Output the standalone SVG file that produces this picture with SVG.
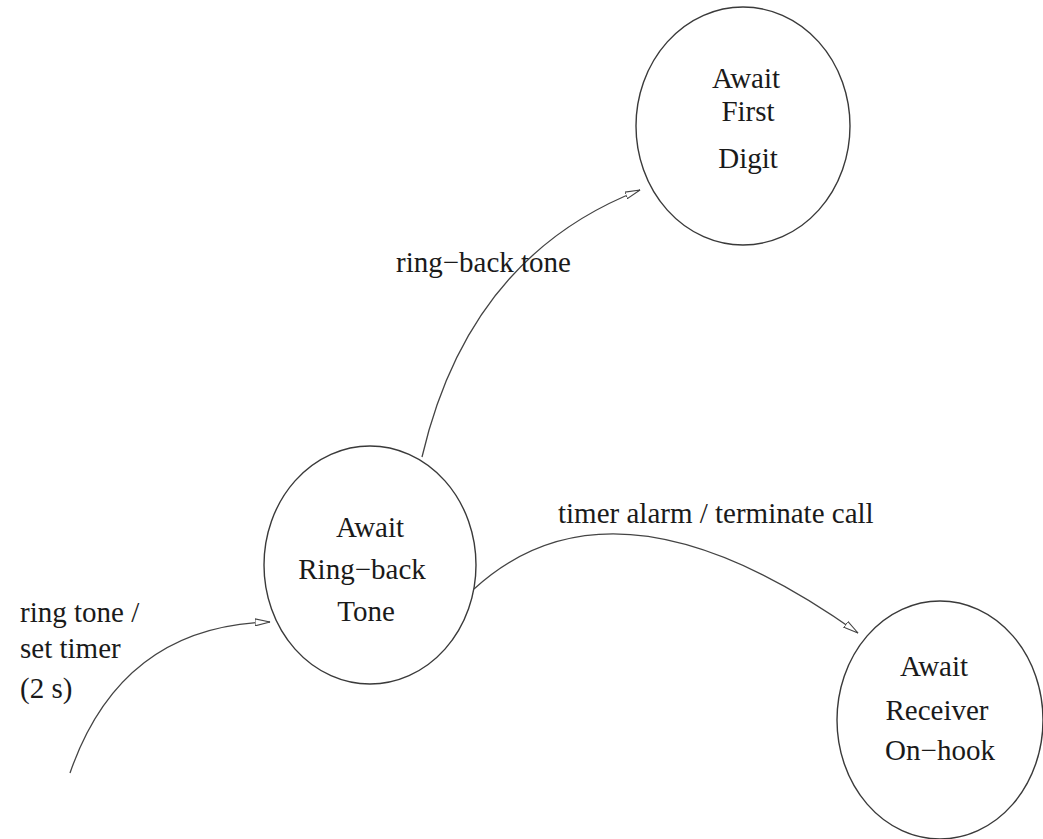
<svg xmlns="http://www.w3.org/2000/svg" width="1043" height="839" viewBox="0 0 1043 839">
  <style>
    .state { fill: #ffffff; stroke: #3a3a3a; stroke-width: 1.4; }
    .name { font-family: "Liberation Serif", "Times New Roman", serif; font-size: 29px; fill: #1a1a1a; text-anchor: middle; }
    .label { font-family: "Liberation Serif", "Times New Roman", serif; font-size: 29px; fill: #1a1a1a; }
    .edge { fill: none; stroke: #444444; stroke-width: 1.3; marker-end: url(#arrow); }
  </style>
  <defs>
    <marker id="arrow" viewBox="0 0 16 8" refX="15" refY="4" markerWidth="16" markerHeight="8" markerUnits="userSpaceOnUse" orient="auto">
      <path d="M0,0.5 L15,4 L0,7.5 Z" fill="#ffffff" stroke="#444444" stroke-width="1.1"/>
    </marker>
  </defs>

  <rect width="1043" height="839" fill="#ffffff"/>

  <!-- transitions -->
  <g id="connectors">
    <path id="e-ringtone" class="edge" d="M70,773 Q121,626 270,622"/>
    <path id="e-ringback" class="edge" d="M422,457 Q469,256 640,190"/>
    <path id="e-timer" class="edge" d="M474,589 Q615,460 858,633"/>
  </g>

  <g id="labels">
    <text class="label" x="20" y="622">ring tone /</text>
    <text class="label" x="20" y="658">set timer</text>
    <text class="label" x="20" y="698">(2 s)</text>
    <text class="label" x="396" y="272">ring−back tone</text>
    <text class="label" x="558" y="523">timer alarm / terminate call</text>
  </g>

  <!-- states -->
  <g id="await-first-digit">
    <ellipse class="state" cx="743" cy="126" rx="107" ry="119"/>
    <text class="name" x="746" y="88">Await</text>
    <text class="name" x="748" y="121">First</text>
    <text class="name" x="748" y="168">Digit</text>
  </g>

  <g id="await-ring-back-tone">
    <ellipse class="state" cx="370" cy="565" rx="106" ry="119"/>
    <text class="name" x="370" y="537">Await</text>
    <text class="name" x="362" y="579">Ring−back</text>
    <text class="name" x="366" y="621">Tone</text>
  </g>

  <g id="await-receiver-on-hook">
    <ellipse class="state" cx="940" cy="720" rx="103" ry="119"/>
    <text class="name" x="934" y="676">Await</text>
    <text class="name" x="937" y="720">Receiver</text>
    <text class="name" x="940" y="760">On−hook</text>
  </g>
</svg>
